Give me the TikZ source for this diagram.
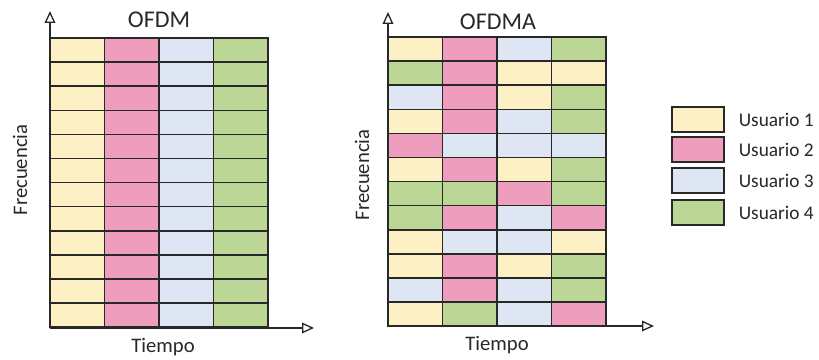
\documentclass[tikz,border=0pt]{standalone}
\usepackage{fontspec}
\setmainfont{Carlito}
\usepackage{tikz}
\usetikzlibrary{arrows.meta,positioning}

\definecolor{user1}{RGB}{252,240,196}
\definecolor{user2}{RGB}{238,158,188}
\definecolor{user3}{RGB}{221,230,242}
\definecolor{user4}{RGB}{188,214,150}
\definecolor{ink}{RGB}{40,40,40}

\begin{document}
\begin{tikzpicture}[x=0.75pt,y=0.75pt,
    cell/.style={draw=ink,line width=1.1pt},
    axis/.style={draw=ink,line width=0.8pt,-{Triangle[open,length=9pt,width=8pt,line width=1pt]}},
    title/.style={text=ink,font=\fontsize{18}{21}\selectfont},
    lbl/.style={text=ink,font=\fontsize{15.5}{18}\selectfont},
    keybox/.style={draw=ink,line width=1.1pt,minimum width=39pt,minimum height=18.5pt,inner sep=0pt},
    keytext/.style={text=ink,font=\fontsize{14.5}{17}\selectfont,right=7pt}
]
\useasboundingbox (0,0) rectangle (819,360);
\def\w{54.5}
\def\h{24.1}
% OFDM: one column per user
\foreach \row in {1,...,12}{
  \foreach \c in {1,2,3,4}{
    \draw[cell,fill=user\c] (50+\w*\c-\w,322-\h*\row) rectangle ++(\w,\h);
  }
}
\coordinate (oA) at (50,32);
\coordinate (oY) at (50,349);
\coordinate (oX) at (314,32);
\draw[axis] (oA) -- (oY);
\draw[axis] (oA) -- (oX);
\node[title] (ofdm) at (159,340) {OFDM};
\node[lbl] (tA) at (163,13) {Tiempo};
\node[lbl,rotate=90] (fA) at (20,190) {Frecuencia};

% OFDMA: users spread over the grid
\foreach \cols [count=\row] in {{1,2,3,4},{4,2,1,1},{3,2,1,4},{1,2,3,4},
    {2,3,3,3},{1,2,1,4},{4,4,2,4},{4,2,3,2},
    {1,3,3,1},{1,2,1,4},{3,2,3,4},{1,4,3,2}}{
  \foreach \c [count=\k] in \cols {
    \draw[cell,fill=user\c] (388+\w*\k-\w,323-\h*\row) rectangle ++(\w,\h);
  }
}
\coordinate (mA) at (388,34);
\coordinate (mY) at (388,348);
\coordinate (mX) at (654,34);
\draw[axis] (mA) -- (mY);
\draw[axis] (mA) -- (mX);
\node[title] (ofdma) at (498,338) {OFDMA};
\node[lbl] (tB) at (497,15) {Tiempo};
\node[lbl,rotate=90] (fB) at (362,185) {Frecuencia};

% Legend
\foreach \c/\y in {1/240.5,2/210.5,3/179.5,4/147.5}{
  \node[keybox,fill=user\c] (key\c) at (698,\y) {};
  \node[keytext] (keyt\c) at (key\c.east) {Usuario \c};
}
\end{tikzpicture}
\end{document}
